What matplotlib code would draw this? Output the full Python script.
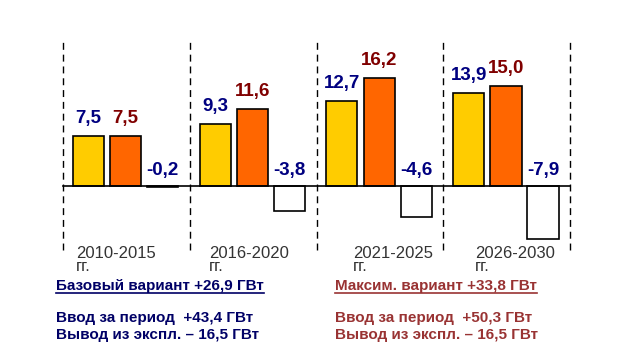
import matplotlib
matplotlib.use('Agg')
import matplotlib.pyplot as plt
from matplotlib.lines import Line2D

# data
periods = ['2010-2015', '2016-2020', '2021-2025', '2026-2030']
base_vals = [7.5, 9.3, 12.7, 13.9]
max_vals = [7.5, 11.6, 16.2, 15.0]
retire_vals = [-0.2, -3.8, -4.6, -7.9]

base_title = 'Базовый вариант +26,9 ГВт'
base_lines = ['Ввод за период  +43,4 ГВт', 'Вывод из экспл. – 16,5 ГВт']
max_title = 'Максим. вариант +33,8 ГВт'
max_lines = ['Ввод за период  +50,3 ГВт', 'Вывод из экспл. – 16,5 ГВт']

plt.rcParams['font.family'] = ['Liberation Sans', 'DejaVu Sans']

W, H = 633, 361
fig = plt.figure(figsize=(W / 100, H / 100), dpi=100)
ax = fig.add_axes([63 / W, (H - 250) / H, (570 - 63) / W, 210 / H])
ax.set_xlim(0, 4)
ax.set_ylim(-9.6, 21.9)
ax.axis('off')

bw = 0.245
offs = [0.2, 0.495, 0.787]
val_size = 13.5


def fmt(v):
    return f'{v:.1f}'.replace('.', ',')


for i in range(len(periods)):
    ax.bar(i + offs[0], base_vals[i], bw, color='#FFCC00', edgecolor='black', linewidth=1.2, zorder=3)
    ax.bar(i + offs[1], max_vals[i], bw, color='#FF6600', edgecolor='black', linewidth=1.2, zorder=3)
    ax.bar(i + offs[2], retire_vals[i], bw, color='white', edgecolor='black', linewidth=1.2, zorder=3)
    ax.annotate(fmt(base_vals[i]), (i + offs[0], base_vals[i]),
                xytext=(0, 9), textcoords='offset pixels',
                ha='center', va='bottom', color='#000080', fontsize=val_size, fontweight='bold')
    ax.annotate(fmt(max_vals[i]), (i + offs[1], max_vals[i]),
                xytext=(0, 9), textcoords='offset pixels',
                ha='center', va='bottom', color='#800000', fontsize=val_size, fontweight='bold')
    ax.annotate(fmt(retire_vals[i]), (i + offs[2], 0),
                xytext=(0, 7), textcoords='offset pixels',
                ha='center', va='bottom', color='#000080', fontsize=val_size, fontweight='bold')

# dashed separators and zero line
for x in range(len(periods) + 1):
    ax.axvline(x, color='black', linestyle=(0, (5, 3.5)), linewidth=1.0, zorder=1, clip_on=False)
ax.axhline(0, color='black', linewidth=1.2, zorder=4, clip_on=False)

# period labels with "гг." on a second line
lab_x = [76, 209, 353, 475]
for i, p in enumerate(periods):
    fig.text(lab_x[i] / W, 1 - 246 / H, p + '\nгг.', ha='left', va='top', fontsize=12,
             color='#333333', linespacing=0.8)


# notes
def note(x, title, lines, color):
    t = fig.text(x / W, 1 - 290 / H, title, ha='left', va='baseline', fontsize=11,
                 fontweight='bold', color=color)
    fig.canvas.draw()
    bb = t.get_window_extent()
    y = 1 - 293 / H
    fig.add_artist(Line2D([bb.x0 / W, bb.x1 / W], [y, y], color=color, linewidth=1.2))
    for k, ln in enumerate(lines):
        fig.text(x / W, 1 - (322 + 17 * k) / H, ln, ha='left', va='baseline', fontsize=11,
                 fontweight='bold', color=color)


note(56, base_title, base_lines, '#000066')
note(335, max_title, max_lines, '#993333')

fig.savefig('out.png', dpi=100)
